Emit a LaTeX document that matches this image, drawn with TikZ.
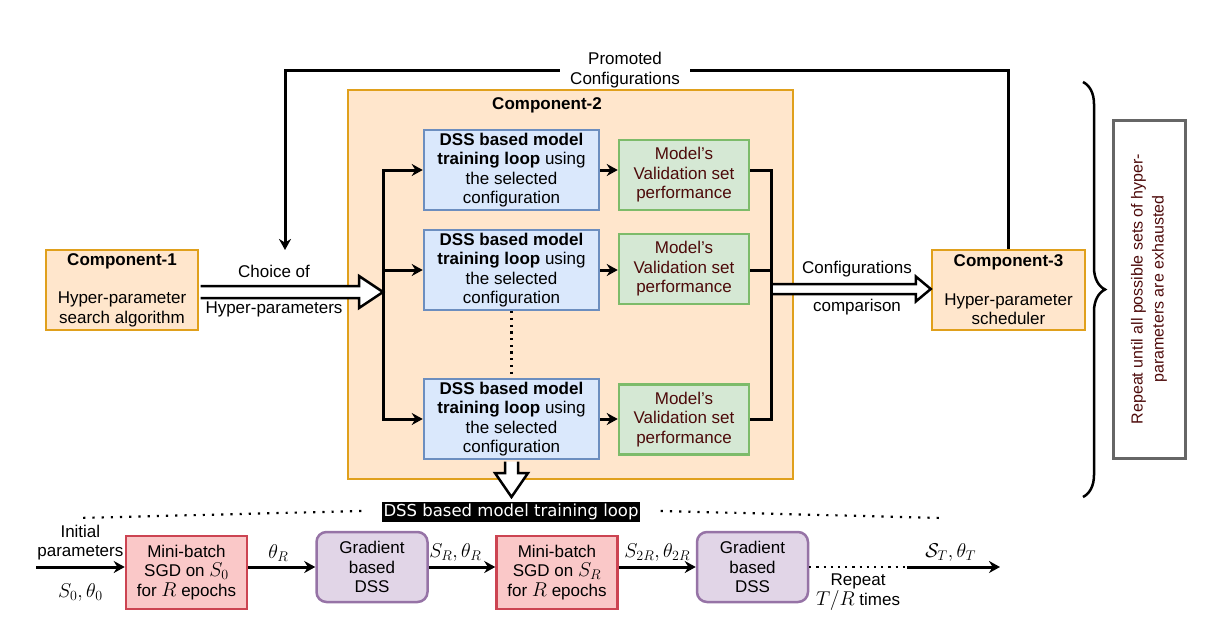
\RequirePackage{fix-cm}
\documentclass[tikz,border=0pt]{standalone}
\usepackage[no-math]{fontspec}
\setmainfont{Liberation Sans}
\newfontfamily\loopfont{DejaVu Sans}
\DeclareMathSizes{17}{20}{14}{10}
\DeclareMathSizes{16}{16}{11.5}{8.5}
\usetikzlibrary{arrows.meta,calc,decorations.pathreplacing}
\definecolor{compfill}{HTML}{FFE6CC}
\definecolor{compline}{HTML}{E0A01C}
\definecolor{trainfill}{HTML}{DAE8FC}
\definecolor{trainline}{HTML}{6C8EBF}
\definecolor{perffill}{HTML}{D5E8D4}
\definecolor{perfline}{HTML}{7DBB6A}
\definecolor{perftext}{HTML}{4D0A0A}
\definecolor{sgdfill}{HTML}{FAC8C8}
\definecolor{sgdline}{HTML}{CC4452}
\definecolor{dssfill}{HTML}{E1D5E7}
\definecolor{dssline}{HTML}{9673A6}
\definecolor{boxline}{HTML}{666666}
\begin{document}
\begin{tikzpicture}[x=1pt,y=-1pt]
  \tikzstyle{comp}=[draw=compline,fill=compfill,line width=2.5pt,align=center,inner sep=0pt,font=\fontsize{17}{19.5}\selectfont]
  \tikzstyle{train}=[draw=trainline,fill=trainfill,line width=2.5pt,align=center,inner sep=0pt,minimum width=175pt,minimum height=80pt,font=\fontsize{17}{19.5}\selectfont]
  \tikzstyle{perf}=[draw=perfline,fill=perffill,line width=2.5pt,align=center,inner sep=0pt,minimum width=130pt,minimum height=70pt,text=perftext,font=\fontsize{17}{19.5}\selectfont]
  \tikzstyle{sgd}=[draw=sgdline,fill=sgdfill,line width=2.5pt,align=center,inner sep=0pt,minimum width=121pt,minimum height=73pt,font=\fontsize{17}{19.5}\selectfont]
  \tikzstyle{dss}=[draw=dssline,fill=dssfill,line width=2.5pt,rounded corners=10pt,align=center,inner sep=0pt,minimum width=111pt,minimum height=70pt,font=\fontsize{17}{19.5}\selectfont]
  \tikzstyle{lbl}=[align=center,inner sep=1pt,font=\fontsize{17}{19.5}\selectfont]
  \tikzstyle{wire}=[line width=3pt]
  \tikzstyle{conn}=[line width=3pt,-{Stealth[length=11pt,width=12pt]}]
  \tikzstyle{hollow}=[line width=2.5pt,fill=white,line join=miter]
  \tikzstyle{dots}=[line width=2.2pt,dash pattern=on 2.2pt off 7pt]

  \useasboundingbox (0,0) rectangle (1216,632);

  \node[comp,minimum width=445pt,minimum height=389pt] (comp2) at (570.5,284.5) {};
  \node[lbl] (title2) at (547,105) {\textbf{Component-2}};

  \node[comp,minimum width=152pt,minimum height=80pt] (comp1) at (122,290) {\textbf{Component-1}\\[19pt]Hyper-parameter\\search algorithm};
  \node[comp,minimum width=153pt,minimum height=80pt] (comp3) at (1008.5,290) {\textbf{Component-3}\\[19pt]Hyper-parameter\\scheduler};

  \node[train] (train1) at (511.5,170) {\textbf{DSS based model}\\\textbf{training loop} using\\the selected\\configuration};
  \node[train] (train2) at (511.5,270) {\textbf{DSS based model}\\\textbf{training loop} using\\the selected\\configuration};
  \node[train] (train3) at (511.5,419) {\textbf{DSS based model}\\\textbf{training loop} using\\the selected\\configuration};

  \node[perf] (perf1) at (684,175) {Model's\\Validation set\\performance};
  \node[perf] (perf2) at (684,269) {Model's\\Validation set\\performance};
  \node[perf] (perf3) at (684,419.5) {Model's\\Validation set\\performance};

  \coordinate (fork) at (383,292);
  \coordinate (merge) at (771,289);

  \draw[hollow] ($(comp1.east |- fork)+(1.25,-6)$) -- ($(fork)+(-24,-6)$) -- ($(fork)+(-24,-16)$) -- (fork) -- ($(fork)+(-24,16)$) -- ($(fork)+(-24,6)$) -- ($(comp1.east |- fork)+(1.25,6)$);
  \node[lbl] (choice) at (274,271) {Choice of};
  \node[lbl] (hyper) at (274,309) {Hyper-parameters};

  \draw[conn] (fork) |- (train1.west);
  \draw[conn] (fork) |- (train2.west);
  \draw[conn] (fork) |- (train3.west);

  \draw[conn] (train1.east) -- (train1.east -| perf1.west);
  \draw[conn] (train2.east) -- (train2.east -| perf2.west);
  \draw[conn] (train3.east) -- (train3.east -| perf3.west);

  \draw[dots,dash pattern=on 2.2pt off 4.5pt] (train2.south) -- (train3.north);

  \draw[hollow] ($(merge)+(0,-5)$) -- ($(comp3.west |- merge)+(-15,-5)$) -- ($(comp3.west |- merge)+(-15,-12.5)$) -- (comp3.west |- merge) -- ($(comp3.west |- merge)+(-15,12.5)$) -- ($(comp3.west |- merge)+(-15,5)$) -- ($(merge)+(0,5)$);
  \node[lbl] (configs) at (857,269) {Configurations};
  \node[lbl] (compare) at (857,307) {comparison};

  \draw[wire] (perf1.east |- train1.east) -| (merge);
  \draw[wire] (perf2.east |- train2.east) -| (merge);
  \draw[wire] (perf3.east |- train3.east) -| (merge);

  \coordinate (turnL) at (285,70);
  \coordinate (promo) at (285,250);
  \draw[conn] (comp3.north) |- (turnL) node[lbl,fill=white,inner xsep=10pt,pos=0.765] {Promoted\\Configurations} -- (promo);

  \draw[line width=2.5pt,decorate,decoration={brace,amplitude=22pt}] (1083,82) -- (1083,497);
  \node[draw=boxline,line width=3pt,rotate=90,minimum width=338pt,minimum height=72pt,align=center,inner sep=0pt,text=perftext,font=\fontsize{16}{21}\selectfont] (repeat) at (1149,289) {Repeat until all possible sets of hyper-\\parameters are exhausted};

  \coordinate (drop) at (511.5,497);
  \draw[hollow] ($(train3.south)+(-6.5,1.25)$) -- ($(drop)+(-6.5,-24)$) -- ($(drop)+(-16.5,-24)$) -- (drop) -- ($(drop)+(16.5,-24)$) -- ($(drop)+(6.5,-24)$) -- ($(train3.south)+(6.5,1.25)$);

  \node[fill=black,text=white,inner sep=2pt,font=\loopfont\fontsize{16.5}{18}\selectfont] (loop) at (511,512) {DSS based model training loop};
  \coordinate (dotL) at (78,518);
  \coordinate (dotR) at (943,518);
  \draw[dots] ($(loop.west)+(-20,-1)$) -- (dotL);
  \draw[dots] ($(loop.east)+(20,-1)$) -- (dotR);

  \coordinate (start) at (36,567);
  \node[sgd] (sgd1) at (186.5,572.5) {Mini-batch\\SGD on $S_0$\\for $R$ epochs};
  \draw[conn] (start) -- (start -| sgd1.west) node[lbl,above=4pt,pos=0.5] {Initial\\parameters} node[lbl,below=14pt,pos=0.5] {$S_0,\theta_0$};

  \node[dss] (dss1) at (372,567) {Gradient\\based\\DSS};
  \draw[conn] (sgd1.east |- start) -- (dss1.west) node[lbl,above=3pt,pos=0.45] {$\theta_R$};

  \node[sgd] (sgd2) at (557,572.5) {Mini-batch\\SGD on $S_R$\\for $R$ epochs};
  \draw[conn] (dss1.east) -- (dss1.east -| sgd2.west) node[lbl,above=3pt,pos=0.4] {$S_R,\theta_R$};

  \node[dss] (dss2) at (752.5,567) {Gradient\\based\\DSS};
  \draw[conn] (sgd2.east |- dss2.west) -- (dss2.west) node[lbl,above=3pt,pos=0.5] {$S_{2R},\theta_{2R}$};

  \coordinate (gap) at (907,567);
  \coordinate (finish) at (1000,567);
  \draw[dots,dash pattern=on 2.2pt off 5pt] (dss2.east) -- (gap) node[lbl,below=5pt,pos=0.5] {Repeat\\$T/R$ times};
  \draw[conn] (gap) -- (finish) node[lbl,above=3pt,pos=0.47] {$\mathcal{S}_T,\theta_T$};
\end{tikzpicture}
\end{document}
